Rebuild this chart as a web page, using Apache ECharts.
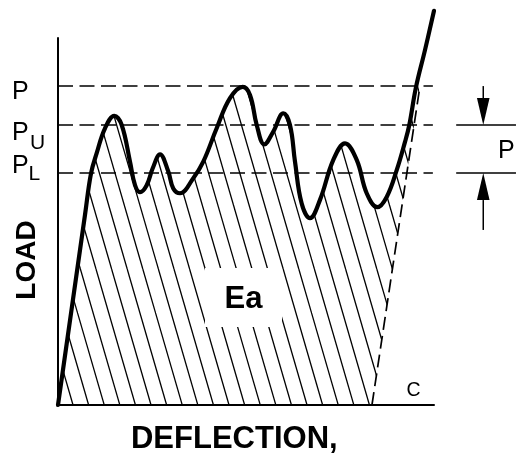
<!DOCTYPE html>
<html><head><meta charset="utf-8">
<script src="https://cdn.jsdelivr.net/npm/echarts@6/dist/echarts.min.js"></script>
<style>html,body{margin:0;padding:0;background:#fff}#c{width:516px;height:465px}</style>
</head><body><div id="c"></div>
<script>
// ---- data (deflection 0..100, load 0..100 in arbitrary units) ----
const deflection = [0, 7.18, 8.78, 10.29, 12.5, 14.97, 16.94, 19.15, 20.48, 21.81, 23.59, 25.19, 27.13, 29.34, 30.66, 32.45, 35.98, 38.64, 42.2, 45.74, 49.12, 51.06, 52.85, 54.87, 57.26, 59.92, 61.7, 63.03, 64.81, 67.02, 69.68, 73.22, 76.33, 79.44, 82.1, 84.92, 87.42, 90.08, 92.29, 93.43, 95.21, 97.6, 100];
const load = [0, 51.8, 63.1, 68.6, 75.4, 78.8, 76.3, 66.3, 59.9, 58.0, 59.9, 64.5, 68.3, 63.6, 59.0, 57.7, 61.8, 66.3, 75.4, 83.6, 86.7, 84.5, 76.3, 71.0, 74.5, 79.5, 76.3, 66.3, 54.9, 50.9, 55.9, 66.8, 71.3, 66.8, 57.7, 53.9, 56.7, 64.0, 71.7, 76.3, 86.6, 96.7, 107.4];
const levelNames = ['P', 'PU', 'PL'];
const levelValues = [86.9, 76.3, 63.2];
const levelEndX = 99.7;
const unloadX = [83.5, 96.1];
const unloadY = [0, 85.8];
const bandTickX = [105.9, 121.8];
const arrowX = 113.1;
const arrowTails = [86.9, 47.7];

// ---- build ----
const curve = deflection.map((x, i) => [x, load[i]]);
const FONT = '"Liberation Sans", Arial, sans-serif';

function hatchPattern() {
  const W = 78, H = 269, sp = 15.6, a0 = 2.4;
  const c = document.createElement('canvas');
  c.width = W; c.height = H;
  const g = c.getContext('2d');
  g.strokeStyle = '#000'; g.lineWidth = 1.3;
  for (let k = 0; k < 5; k++) {
    for (const s of [-W, 0]) {
      const a = a0 + sp * k + s;
      g.beginPath(); g.moveTo(a, 0); g.lineTo(a + W, H); g.stroke();
    }
  }
  return { image: c, repeat: 'repeat' };
}

function segRender(style) {
  return function (params, api) {
    const p1 = api.coord([api.value(0), api.value(1)]);
    const p2 = api.coord([api.value(2), api.value(3)]);
    return { type: 'line', shape: { x1: p1[0], y1: p1[1], x2: p2[0], y2: p2[1] }, style: style };
  };
}

const levelSegs = levelValues.map(v => [0, v, levelEndX, v]);
const bandSegs = [levelValues[1], levelValues[2]].map(v => [bandTickX[0], v, bandTickX[1], v]);
const arrowData = [[arrowX, arrowTails[0], levelValues[1]], [arrowX, arrowTails[1], levelValues[2]]];

function txt(text, x, y, size, opts) {
  opts = opts || {};
  return {
    type: 'text', x: x, y: y, z: 20, rotation: opts.rotation || 0,
    style: {
      text: text, x: 0, y: 0, fill: '#000',
      font: (opts.bold ? 'bold ' : '') + size + 'px ' + FONT,
      align: opts.align || 'left', textAlign: opts.align || 'left',
      verticalAlign: 'middle', textVerticalAlign: 'middle'
    }
  };
}

const option = {
  animation: false,
  grid: { left: 58, top: 38, right: 82, bottom: 60 },
  xAxis: { type: 'value', min: 0, max: 100, z: 6,
    axisLine: { lineStyle: { color: '#000', width: 2 } },
    axisTick: { show: false }, axisLabel: { show: false }, splitLine: { show: false } },
  yAxis: { type: 'value', min: 0, max: 100, z: 6,
    axisLine: { show: true, lineStyle: { color: '#000', width: 2 } },
    axisTick: { show: false }, axisLabel: { show: false }, splitLine: { show: false } },
  series: [
    { // hatched area under curve
      type: 'line', data: curve, smooth: 0.4, symbol: 'none', clip: false, z: 1, silent: true,
      lineStyle: { width: 0, opacity: 0 },
      areaStyle: { color: hatchPattern(), opacity: 1 }
    },
    { // white mask right of the unloading line
      type: 'custom', z: 2, clip: false, silent: true,
      data: [[unloadX[0], unloadY[0], unloadX[1], unloadY[1]]],
      renderItem: function (params, api) {
        const x0 = api.value(0), y0 = api.value(1), x1 = api.value(2), y1 = api.value(3);
        const x2 = x1 + (x1 - x0) * 0.35, y2 = y1 + (y1 - y0) * 0.35;
        const pts = [[x0, y0], [x1, y1], [x2, y2], [110, y2], [110, y0]].map(p => api.coord(p));
        return { type: 'polygon', shape: { points: pts }, style: { fill: '#fff' } };
      }
    },
    { // level dashed lines
      type: 'custom', z: 3, clip: false, silent: true, data: levelSegs,
      renderItem: segRender({ stroke: '#000', lineWidth: 1.5, lineDash: [15, 6.5] })
    },
    { // unloading dashed line
      type: 'line', data: unloadX.map((x, i) => [x, unloadY[i]]), symbol: 'none', clip: false, z: 3,
      lineStyle: { color: '#000', width: 1.7, type: [13, 6] }
    },
    { // load-deflection curve
      type: 'line', data: curve, smooth: 0.4, symbol: 'none', clip: false, z: 4,
      lineStyle: { color: '#000', width: 4.2, cap: 'round', join: 'round' }
    },
    { // band ticks on the right
      type: 'custom', z: 3, clip: false, silent: true, data: bandSegs,
      renderItem: segRender({ stroke: '#000', lineWidth: 1.5 })
    },
    { // arrows
      type: 'custom', z: 4, clip: false, silent: true, data: arrowData,
      renderItem: function (params, api) {
        const x = api.value(0);
        const tail = api.coord([x, api.value(1)]);
        const tip = api.coord([x, api.value(2)]);
        const dir = Math.sign(tip[1] - tail[1]);
        const hl = 27, hw = 6.3;
        const by = tip[1] - dir * hl;
        return { type: 'group', children: [
          { type: 'line', shape: { x1: tail[0], y1: tail[1], x2: tail[0], y2: by }, style: { stroke: '#000', lineWidth: 1.5 } },
          { type: 'polygon', shape: { points: [[tip[0], tip[1]], [tip[0] - hw, by], [tip[0] + hw, by]] }, style: { fill: '#000' } }
        ] };
      }
    }
  ],
  graphic: { elements: [
    { type: 'rect', shape: { x: 205, y: 268, width: 77, height: 59 }, style: { fill: '#fff' }, z: 15 },
    txt('Ea', 243.5, 299.5, 31, { bold: true, align: 'center' }),
    txt('P', 12, 92, 25),
    txt('P', 12, 133, 25),
    txt('U', 30, 143, 21),
    txt('P', 12, 166.5, 25),
    txt('L', 28.5, 174.5, 21),
    txt('P', 498, 151, 25),
    txt('C', 413.5, 390.5, 19.5, { align: 'center' }),
    txt('LOAD', 27.5, 260, 28, { bold: true, align: 'center', rotation: Math.PI / 2 }),
    txt('DEFLECTION,', 234.3, 439.5, 31, { bold: true, align: 'center' })
  ] }
};

const chart = echarts.init(document.getElementById('c'), null, { renderer: 'canvas' });
chart.setOption(option);
</script>
</body></html>
